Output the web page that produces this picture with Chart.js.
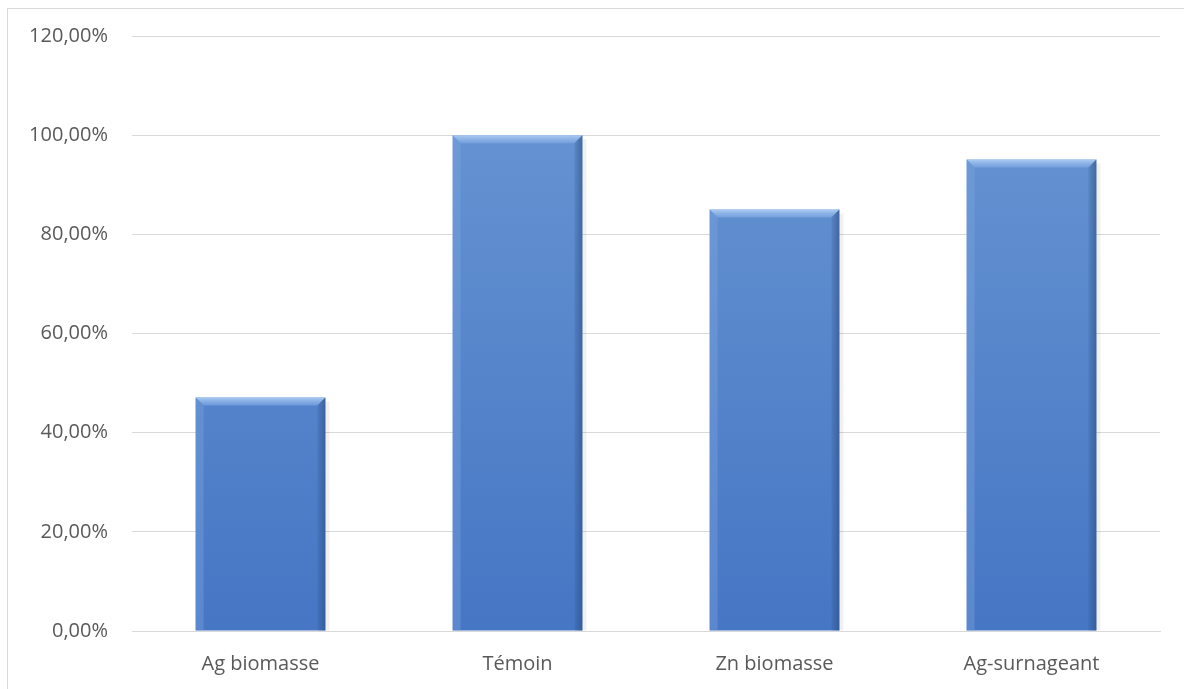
<!DOCTYPE html>
<html lang="fr">
<head>
<meta charset="UTF-8">
<title>Biomasse</title>
<script src="https://cdn.jsdelivr.net/npm/chart.js@4.4.0/dist/chart.umd.min.js"></script>
<style>
  html, body { margin: 0; padding: 0; background: #fff; }
  #wrap { position: relative; width: 1184px; height: 689px; overflow: hidden; }
  #frame { position: absolute; left: 7px; top: 8px; width: 1300px; height: 800px; border: 1px solid #d9d9d9; box-sizing: border-box; }
  #box { position: absolute; left: 0; top: 0; width: 1184px; height: 689px; }
</style>
</head>
<body>
<div id="wrap">
  <div id="frame"></div>
  <div id="box"><canvas id="chart"></canvas></div>
</div>
<script>
// données
const categories = ['Ag biomasse', 'Témoin', 'Zn biomasse', 'Ag-surnageant'];
const values = [0.471, 1.0, 0.85, 0.951];
const yTicks = [0, 0.2, 0.4, 0.6, 0.8, 1.0, 1.2];

function pct(v) {
  return (v * 100).toFixed(2).replace('.', ',') + '%';
}

// effet biseau façon Excel
const bevel = {
  id: 'bevel',
  afterDatasetsDraw(chart) {
    const ctx = chart.ctx;
    chart.getDatasetMeta(0).data.forEach(bar => {
      const p = bar.getProps(['x', 'y', 'base', 'width'], true);
      const l = p.x - p.width / 2, r = p.x + p.width / 2, t = p.y, b = p.base;
      const d = 8;
      ctx.save();
      // haut clair
      const gt = ctx.createLinearGradient(0, t, 0, t + d);
      gt.addColorStop(0, 'rgba(185, 215, 248, 0.85)');
      gt.addColorStop(1, 'rgba(140, 180, 235, 0.45)');
      ctx.fillStyle = gt;
      ctx.beginPath();
      ctx.moveTo(l, t); ctx.lineTo(r, t); ctx.lineTo(r - d, t + d); ctx.lineTo(l + d, t + d); ctx.closePath();
      ctx.fill();
      // gauche
      ctx.fillStyle = 'rgba(130, 170, 225, 0.35)';
      ctx.beginPath();
      ctx.moveTo(l, t); ctx.lineTo(l + d, t + d); ctx.lineTo(l + d, b); ctx.lineTo(l, b); ctx.closePath();
      ctx.fill();
      // droite sombre
      const gr = ctx.createLinearGradient(r - d, 0, r, 0);
      gr.addColorStop(0, 'rgba(40, 75, 130, 0.15)');
      gr.addColorStop(1, 'rgba(40, 70, 120, 0.55)');
      ctx.fillStyle = gr;
      ctx.beginPath();
      ctx.moveTo(r, t); ctx.lineTo(r - d, t + d); ctx.lineTo(r - d, b); ctx.lineTo(r, b); ctx.closePath();
      ctx.fill();
      // ombre portée
      ctx.fillStyle = 'rgba(0, 0, 0, 0.06)';
      ctx.fillRect(r, t + 4, 4, b - t - 4);
      ctx.restore();
    });
  }
};

new Chart(document.getElementById('chart'), {
  type: 'bar',
  data: {
    labels: categories,
    datasets: [{
      data: values,
      backgroundColor(c) {
        const area = c.chart.chartArea;
        if (!area) return '#5b8bd0';
        const g = c.chart.ctx.createLinearGradient(0, area.top, 0, area.bottom);
        g.addColorStop(0, '#6a98d4');
        g.addColorStop(1, '#4676c4');
        return g;
      },
      borderWidth: 0,
      barPercentage: 0.505,
      categoryPercentage: 1.0
    }]
  },
  options: {
    responsive: true,
    maintainAspectRatio: false,
    animation: false,
    layout: { padding: { left: 0, right: 24, top: 35, bottom: 0 } },
    plugins: { legend: { display: false }, tooltip: { enabled: false } },
    scales: {
      x: {
        grid: { display: false, drawTicks: false },
        border: { color: '#d9d9d9', width: 1 },
        ticks: { color: '#595959', font: { family: 'Open Sans', size: 20 }, padding: 21 },
        afterFit(s) { s.height = 58; }
      },
      y: {
        min: 0,
        max: 1.2,
        afterBuildTicks(s) { s.ticks = yTicks.map(v => ({ value: v })); },
        grid: { color: '#d9d9d9', lineWidth: 1, drawTicks: false },
        border: { display: false },
        ticks: { color: '#595959', font: { family: 'Open Sans', size: 20 }, padding: 24, callback: v => pct(v) },
        afterFit(s) { s.width = 132; }
      }
    }
  },
  plugins: [bevel]
});
</script>
</body>
</html>
